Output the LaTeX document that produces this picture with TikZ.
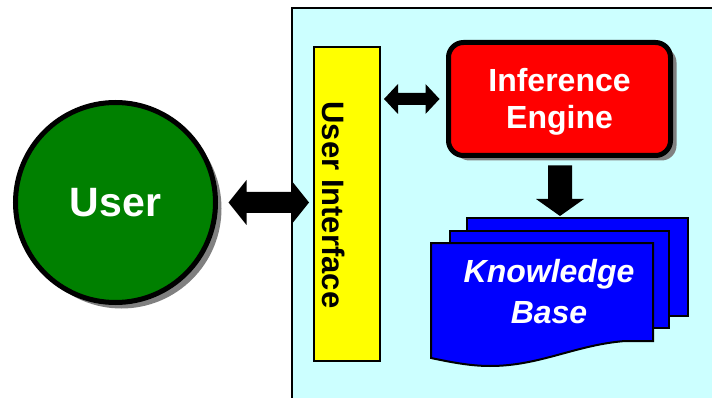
\documentclass[tikz,border=0pt]{standalone}
\usepackage{fontspec}
\setmainfont{Liberation Sans}
\usetikzlibrary{calc,shadows}

\definecolor{panelcyan}{HTML}{CCFFFF}
\definecolor{usergreen}{HTML}{008000}
\definecolor{iered}{HTML}{FF0000}
\definecolor{uiyellow}{HTML}{FFFF00}
\definecolor{kbblue}{HTML}{0000FF}
\definecolor{shadowgray}{HTML}{808080}

% horizontal double block arrow: #1 left tip, #2 right tip,
% #3 shaft half width, #4 head half width, #5 head length
\newcommand\dblockarrow[5]{%
  \fill[black] let \p1=(#1), \p2=(#2) in
    (\x1,\y1) -- (\x1+#5,\y1+#4) -- (\x1+#5,\y1+#3) -- (\x2-#5,\y1+#3)
    -- (\x2-#5,\y1+#4) -- (\x2,\y1) -- (\x2-#5,\y1-#4) -- (\x2-#5,\y1-#3)
    -- (\x1+#5,\y1-#3) -- (\x1+#5,\y1-#4) -- cycle;}
% downward block arrow: #1 top of shaft, #2 tip
\newcommand\downblockarrow[5]{%
  \fill[black] let \p1=(#1), \p2=(#2) in
    (\x1-#3,\y1) -- (\x1+#3,\y1) -- (\x1+#3,\y2+#5) -- (\x1+#4,\y2+#5)
    -- (\x1,\y2) -- (\x1-#4,\y2+#5) -- (\x1-#3,\y2+#5) -- cycle;}

\tikzset{
  userdisc/.style={circle, draw=black, line width=5pt, fill=usergreen,
    minimum size=200pt, inner sep=0pt, text=white,
    font=\fontsize{41}{41}\selectfont\bfseries,
    drop shadow={shadow xshift=6pt, shadow yshift=-6pt, fill=shadowgray, opacity=1}},
  uibar/.style={rectangle, draw=black, line width=2pt, fill=uiyellow,
    minimum width=66pt, minimum height=314pt, inner sep=0pt},
  uilabel/.style={rotate=-90, inner sep=0pt,
    font=\fontsize{31}{31}\selectfont\bfseries},
  engine/.style={rectangle, rounded corners=15pt, draw=black, line width=5pt,
    fill=iered, minimum width=222pt, minimum height=113pt, inner sep=0pt,
    text=white, align=center, text depth=1pt,
    font=\fontsize{32}{37}\selectfont\bfseries,
    drop shadow={shadow xshift=6pt, shadow yshift=-5pt, fill=shadowgray, opacity=1}},
  sheet/.style={rectangle, draw=black, line width=2pt, fill=kbblue, inner sep=0pt},
  kblabel/.style={inner sep=0pt, text=white, align=center,
    font=\fontsize{32}{41}\selectfont\bfseries\itshape},
}

\begin{document}
\begin{tikzpicture}[x=1pt, y=-1pt]
  \useasboundingbox (0,0) rectangle (712,398);

  % expert system panel
  \fill[panelcyan] (292,8) rectangle (716,402);
  \draw[line width=1.5pt] (292,402) -- (292,8) -- (716,8);

  % user
  \node[userdisc] (user) at (115.5,202.5) {User};

  % user interface bar
  \node[uibar] (ui) at (347,204) {};
  \node[uilabel] (uitext) at (334,205) {User Interface};

  % inference engine
  \node[engine] (ie) at (559.5,99) {Inference\\Engine};

  % knowledge base: stacked sheets
  \node[sheet, minimum width=221pt, minimum height=98pt] (kb3) at (577.5,267) {};
  \node[sheet, minimum width=219pt, minimum height=97pt] (kb2) at (559.5,279.5) {};
  \draw[black, line width=2pt, fill=kbblue]
    (431,243) -- (653,243) -- (653,341) -- (625,341)
    .. controls (575,345) and (540,366) .. (490,366)
    .. controls (470,366) and (450,362) .. (431,358) -- cycle;
  \node[kblabel] (kb) at (549,292) {Knowledge\\Base};

  % connectors
  \dblockarrow{$(user.east)+(10.5pt,0)$}{$(ui.west |- user.east)+(-4pt,0)$}{10.5pt}{22.5pt}{18pt}
  \dblockarrow{$(ui.east |- ie.west)+(3pt,0)$}{$(ie.west)+(-6.5pt,0)$}{6pt}{15pt}{14pt}
  \downblockarrow{$(ie.south)+(0.5pt,-7.5pt)$}{$(kb3.north)+(0,1pt)$}{12pt}{24pt}{17pt}
\end{tikzpicture}
\end{document}
